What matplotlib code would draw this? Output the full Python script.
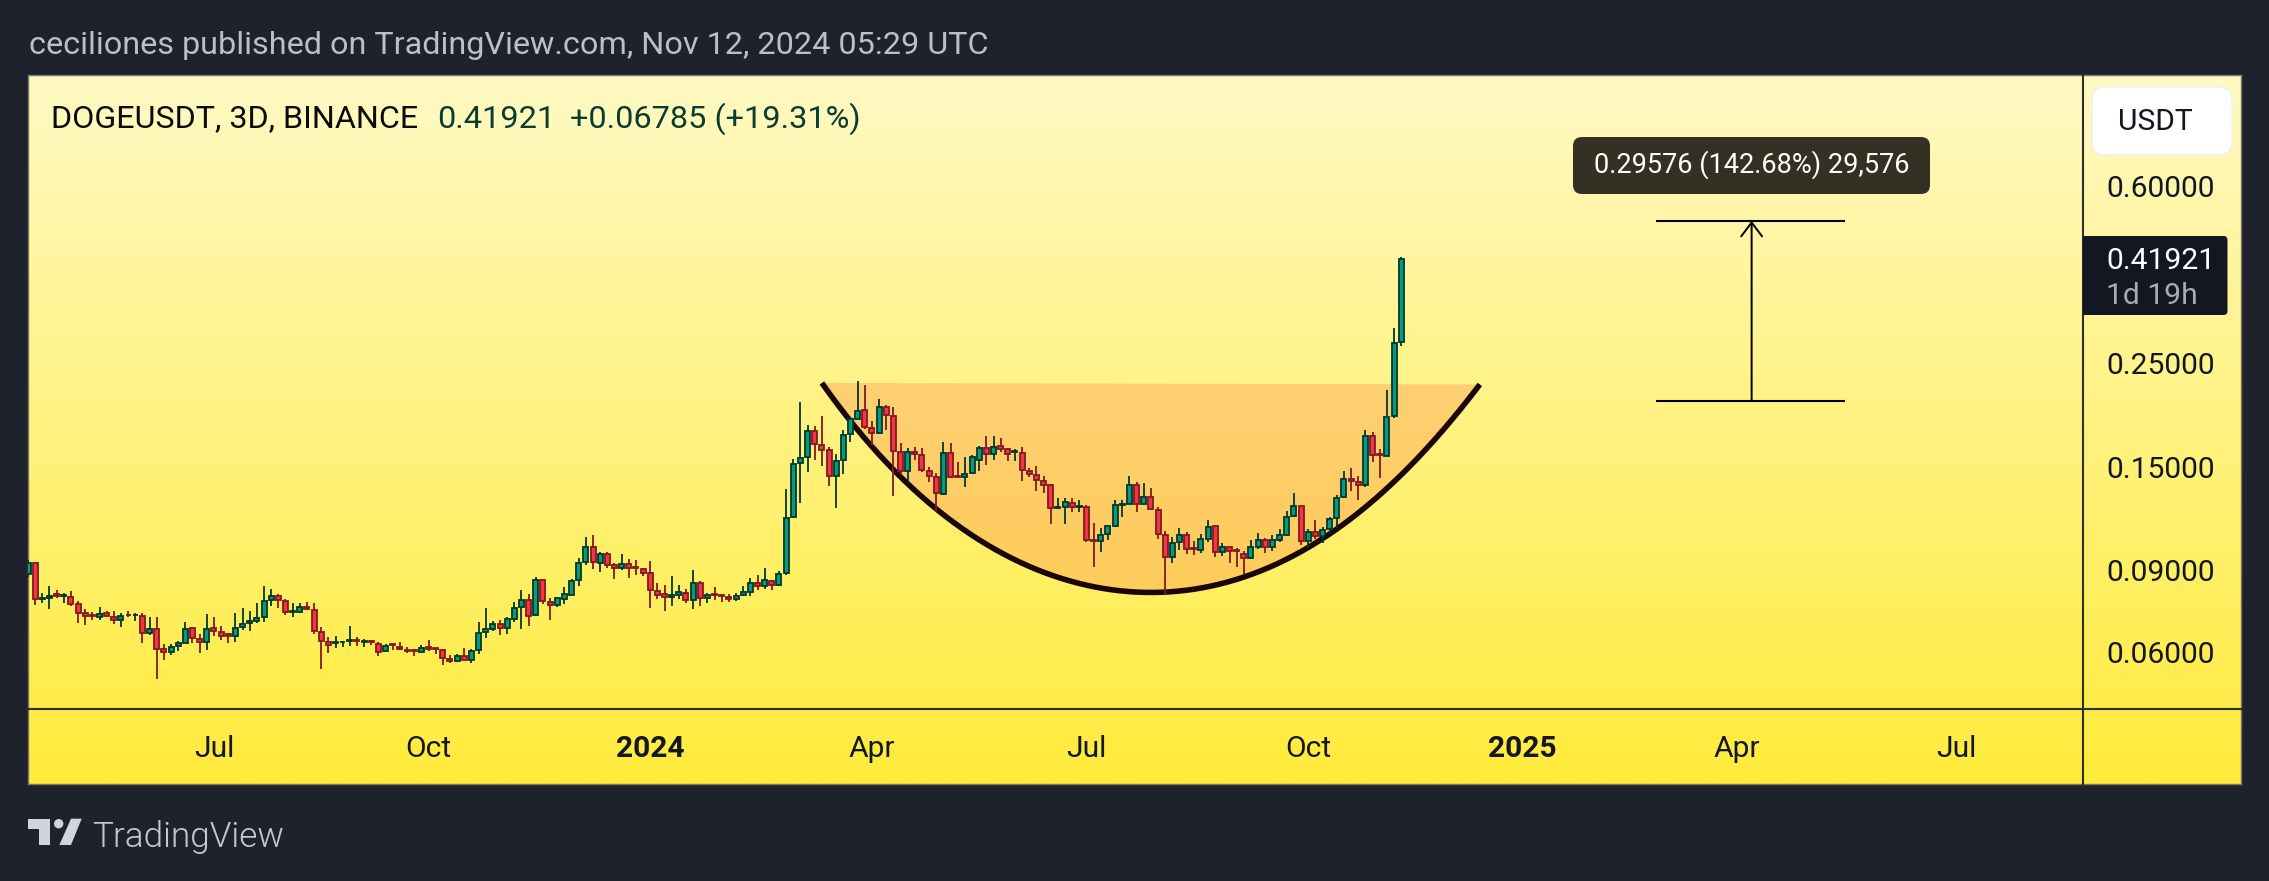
import numpy as np
import pandas as pd
import matplotlib
matplotlib.use("Agg")
import matplotlib.pyplot as plt
import matplotlib.dates as mdates
from matplotlib.patches import FancyBboxPatch, Polygon, Circle, Rectangle
from matplotlib.ticker import NullLocator

plt.rcParams['font.family'] = ['Roboto', 'DejaVu Sans']

# ---------- data ----------
last_bar = "2024-11-11"
opens = [
.0882,.0933,.0781,.0782,.0798,.0790,.0789,.0759,.0727,.0719,
.0712,.0727,.0715,.0702,.0722,.0720,.0718,.0658,.0673,.0608,
.0599,.0617,.0627,.0675,.0641,.0630,.0675,.0664,.0655,.0648,
.0679,.0692,.0698,.0712,.0775,.0793,.0773,.0730,.0731,.0751,
.0740,.0664,.0632,.0626,.0630,.0633,.0636,.0631,.0634,.0625,
.0602,.0623,.0614,.0607,.0605,.0599,.0614,.0611,.0607,.0581,
.0573,.0589,.0578,.0605,.0662,.0671,.0688,.0675,.0705,.0748,
.0777,.0719,.0858,.0769,.0756,.0779,.0796,.0855,.0935,.1010,
.0933,.0976,.0921,.0908,.0929,.0912,.0903,.0888,.0812,.0798,
.0787,.0795,.0805,.0775,.0845,.0782,.0798,.0795,.0787,.0779,
.0795,.0806,.0845,.0830,.0854,.0837,.0885,.1168,.1525,.1571,
.1786,.1672,.1626,.1430,.1548,.1760,.1895,.1988,.1819,.1768,
.2018,.1930,.1615,.1465,.1615,.1592,.1470,.1427,.1312,.1600,
.1430,.1422,.1451,.1548,.1648,.1594,.1659,.1634,.1615,.1607,
.1470,.1441,.1400,.1368,.1224,.1231,.1255,.1229,.1227,.1046,
.1040,.1075,.1117,.1243,.1247,.1372,.1247,.1293,.1212,.1072,
.0958,.1033,.1072,.1005,.0992,.1050,.1117,.0982,.1010,.0992,
.0974,.0954,.1007,.1046,.1008,.1044,.1072,.1173,.1237,.1037,
.1088,.1065,.1100,.1162,.1289,.1413,.1392,.1368,.1747,.1597,
.1581,.1926,.2776]
closes = [
.0933,.0779,.0785,.0793,.0793,.0794,.0760,.0727,.0717,.0716,
.0725,.0716,.0702,.0718,.0719,.0722,.0658,.0673,.0609,.0599,
.0616,.0626,.0673,.0643,.0630,.0673,.0665,.0651,.0651,.0677,
.0690,.0701,.0711,.0773,.0793,.0775,.0730,.0734,.0751,.0741,
.0666,.0635,.0620,.0630,.0632,.0636,.0633,.0633,.0631,.0601,
.0619,.0620,.0608,.0602,.0603,.0613,.0608,.0609,.0582,.0573,
.0587,.0578,.0604,.0660,.0671,.0690,.0675,.0705,.0746,.0777,
.0718,.0858,.0771,.0756,.0782,.0798,.0854,.0933,.1010,.0935,
.0976,.0921,.0907,.0929,.0909,.0908,.0888,.0814,.0797,.0787,
.0795,.0806,.0775,.0845,.0784,.0795,.0795,.0791,.0779,.0793,
.0806,.0845,.0830,.0855,.0837,.0884,.1166,.1520,.1568,.1786,
.1675,.1626,.1430,.1545,.1757,.1895,.1978,.1822,.1768,.2018,
.1936,.1618,.1467,.1612,.1594,.1473,.1430,.1315,.1600,.1427,
.1422,.1448,.1570,.1648,.1594,.1656,.1634,.1594,.1623,.1473,
.1444,.1404,.1370,.1224,.1231,.1257,.1229,.1237,.1042,.1040,
.1072,.1117,.1239,.1249,.1370,.1249,.1293,.1214,.1075,.0958,
.1029,.1070,.0998,.0998,.1048,.1115,.0983,.1010,.0990,.0987,
.0954,.1006,.1046,.1008,.1046,.1072,.1171,.1237,.1037,.1088,
.1063,.1097,.1160,.1285,.1411,.1395,.1368,.1747,.1592,.1589,
.1920,.2767,.41921]
highs = [
.0946,.0933,.0802,.0832,.0815,.0802,.0811,.0772,.0742,.0731,
.0750,.0735,.0735,.0728,.0735,.0728,.0728,.0713,.0713,.0624,
.0624,.0633,.0696,.0679,.0655,.0724,.0713,.0682,.0658,.0728,
.0745,.0735,.0764,.0832,.0819,.0798,.0780,.0764,.0764,.0768,
.0764,.0679,.0647,.0650,.0633,.0682,.0647,.0640,.0637,.0631,
.0624,.0623,.0631,.0615,.0609,.0621,.0637,.0612,.0609,.0591,
.0594,.0612,.0609,.0696,.0745,.0700,.0703,.0713,.0768,.0815,
.0799,.0870,.0858,.0784,.0788,.0827,.0860,.0953,.1059,.1070,
.0983,.0983,.0932,.0974,.0951,.0946,.0908,.0941,.0844,.0836,
.0873,.0836,.0820,.0900,.0852,.0803,.0827,.0799,.0799,.0803,
.0832,.0865,.0878,.0909,.0857,.0896,.1343,.1558,.2061,.1843,
.1834,.1926,.1650,.1597,.1798,.1920,.2290,.2245,.1880,.2092,
.2035,.2015,.1683,.1642,.1650,.1642,.1495,.1451,.1692,.1683,
.1535,.1570,.1586,.1661,.1745,.1745,.1725,.1648,.1634,.1650,
.1487,.1505,.1432,.1377,.1285,.1285,.1285,.1272,.1241,.1136,
.1106,.1120,.1272,.1272,.1432,.1387,.1381,.1347,.1226,.1090,
.1061,.1106,.1084,.1039,.1074,.1150,.1122,.1027,.1013,.1002,
.0987,.1044,.1079,.1054,.1068,.1100,.1203,.1315,.1241,.1100,
.1150,.1113,.1168,.1301,.1468,.1487,.1430,.1795,.1777,.1634,
.2191,.2976,.4219]
lows = [
.0871,.0757,.0763,.0743,.0785,.0766,.0755,.0694,.0687,.0703,
.0704,.0715,.0689,.0680,.0713,.0700,.0628,.0654,.0525,.0577,
.0591,.0604,.0626,.0627,.0597,.0606,.0651,.0637,.0627,.0630,
.0669,.0667,.0694,.0697,.0754,.0746,.0721,.0715,.0729,.0740,
.0656,.0552,.0597,.0612,.0615,.0618,.0618,.0616,.0620,.0589,
.0600,.0606,.0607,.0598,.0589,.0598,.0603,.0594,.0563,.0568,
.0572,.0578,.0569,.0594,.0642,.0667,.0652,.0656,.0696,.0672,
.0682,.0718,.0761,.0703,.0750,.0761,.0795,.0832,.0923,.0905,
.0891,.0909,.0861,.0900,.0865,.0878,.0873,.0745,.0778,.0735,
.0754,.0778,.0765,.0742,.0754,.0765,.0776,.0768,.0768,.0773,
.0792,.0792,.0815,.0820,.0815,.0832,.0878,.1168,.1255,.1463,
.1550,.1505,.1364,.1224,.1446,.1694,.1895,.1807,.1670,.1765,
.1798,.1295,.1440,.1385,.1550,.1463,.1392,.1200,.1306,.1422,
.1422,.1359,.1448,.1470,.1512,.1550,.1615,.1545,.1545,.1400,
.1427,.1332,.1319,.1132,.1216,.1132,.1200,.1199,.1035,.0911,
.0985,.1044,.1112,.1171,.1245,.1200,.1245,.1209,.1050,.0798,
.0933,.0994,.0976,.0971,.0981,.1035,.0961,.0966,.0932,.0915,
.0882,.0952,.1000,.0981,.0990,.1035,.1066,.1168,.1019,.1005,
.1050,.1030,.1082,.1106,.1287,.1332,.1274,.1359,.1537,.1420,
.1578,.1911,.2727]

cup_dates = ["2024-03-13","2024-03-26","2024-04-12","2024-04-30","2024-05-18","2024-06-04",
             "2024-06-22","2024-07-10","2024-07-27","2024-08-19","2024-09-06","2024-09-24",
             "2024-10-13","2024-11-02","2024-11-19","2024-11-30","2024-12-14"]
cup_prices = [.2270,.1842,.1487,.1210,.1043,.0938,.0865,.0818,.0802,.0822,.0871,.0953,
              .1087,.1293,.1575,.1858,.2240]

target_low = 0.2077
target_high = 0.5050
target_start, target_mid, target_end = "2025-02-26", "2025-04-07", "2025-05-16"

price_ticks = [0.60, 0.25, 0.15, 0.09, 0.06]
price_labels = ["0.60000", "0.25000", "0.15000", "0.09000", "0.06000"]
time_ticks = ["2023-07-02","2023-09-30","2024-01-01","2024-04-03","2024-07-02",
              "2024-10-03","2025-01-01","2025-04-01","2025-07-02"]
time_labels = ["Jul","Oct","2024","Apr","Jul","Oct","2025","Apr","Jul"]

title_text = "ceciliones published on TradingView.com, Nov 12, 2024 05:29 UTC"
symbol_text = "DOGEUSDT, 3D, BINANCE"
last_text = "0.41921"
change_text = "+0.06785 (+19.31%)"
tooltip_text = "0.29576 (142.68%) 29,576"
countdown_text = "1d 19h"

# ---------- layout ----------
W, H = 2269, 881
BG = "#1E222D"
fig = plt.figure(figsize=(W / 100, H / 100), dpi=100, facecolor=BG)

def frac(x0, y0, x1, y1):
    return [x0 / W, 1 - y1 / H, (x1 - x0) / W, (y1 - y0) / H]

# gradient panel
bg = fig.add_axes(frac(28, 75, 2241, 784), zorder=0)
top, bot = np.array([255, 249, 196]) / 255, np.array([255, 235, 59]) / 255
grad = np.linspace(0, 1, 256)[:, None, None] * (bot - top) + top
bg.imshow(grad, aspect="auto", interpolation="bilinear")
bg.set_xticks([]); bg.set_yticks([])
for s in bg.spines.values():
    s.set_color("#77775F"); s.set_linewidth(1.0)

# main chart
ax = fig.add_axes(frac(28, 75, 2083, 709), zorder=1)
ax.patch.set_alpha(0)
dates = pd.date_range(end=last_bar, periods=len(closes), freq="3D")
x = mdates.date2num(dates)
o, h, l, c = map(np.array, (opens, highs, lows, closes))
up = c >= o
GREEN, GREEN_D = "#089981", "#00382F"
RED, RED_D = "#F23645", "#801922"

# the rounded arc drawn on the chart: a smooth curve through the read points
cx = mdates.date2num(pd.to_datetime(cup_dates))
cy = np.log(np.array(cup_prices))
arc = np.polyfit(cx - cx[0], cy, 6)
sx = np.linspace(cx[0], cx[-1], 160)
sy = np.exp(np.polyval(arc, sx - cx[0]))
ax.fill(sx, sy, color="#FA9650", alpha=0.38, lw=0, zorder=1)
ax.plot(sx, sy, color="#1A0508", lw=4.0, solid_capstyle="butt", solid_joinstyle="round", zorder=2)

ax.vlines(x[up], l[up], h[up], color=GREEN_D, lw=1.3, zorder=3)
ax.vlines(x[~up], l[~up], h[~up], color=RED_D, lw=1.3, zorder=3)
lo_body, hi_body = np.minimum(o, c), np.maximum(o, c)
ax.bar(x[up], (hi_body - lo_body)[up], bottom=lo_body[up], width=2.1,
       color=GREEN, edgecolor=GREEN_D, linewidth=1.3, zorder=4)
ax.bar(x[~up], (hi_body - lo_body)[~up], bottom=lo_body[~up], width=2.1,
       color=RED, edgecolor=RED_D, linewidth=1.3, zorder=4)

# measured move
t0, t1, t2 = mdates.date2num(pd.to_datetime([target_start, target_mid, target_end]))
ax.hlines([target_low, target_high], t0, t2, color="black", lw=1.5, zorder=3)
ax.annotate("", xy=(t1, target_high), xytext=(t1, target_low),
            arrowprops=dict(arrowstyle="->,head_length=1.0,head_width=0.75", mutation_scale=10,
                            shrinkA=0, shrinkB=0, lw=1.4, color="black"), zorder=3)

ax.set_yscale("log")
ax.set_xlim(mdates.date2num(pd.Timestamp("2024-01-01")) - 261, mdates.date2num(pd.Timestamp("2024-01-01")) + 601)
ax.set_ylim(0.04528, 1.038)
ax.yaxis.set_minor_locator(NullLocator())
ax.yaxis.tick_right()
ax.set_yticks(price_ticks, price_labels)
ax.set_xticks(mdates.date2num(pd.to_datetime(time_ticks)), time_labels)
ax.tick_params(axis="both", length=0, labelsize=21.6, labelcolor="#131722")
ax.tick_params(axis="y", pad=16.5)
ax.tick_params(axis="x", pad=18.5)
for lab in ax.get_xticklabels():
    if lab.get_text().isdigit():
        lab.set_fontweight("bold")
for s in ("top", "left"):
    ax.spines[s].set_visible(False)
for s in ("right", "bottom"):
    ax.spines[s].set_color("#2E2E2E"); ax.spines[s].set_linewidth(1.5)

# overlay in pixel coordinates
ov = fig.add_axes([0, 0, 1, 1], zorder=2)
ov.set_xlim(0, W); ov.set_ylim(H, 0); ov.axis("off")

ov.plot([2083, 2083], [709, 784], color="#2E2E2E", lw=1.5)
ov.plot([2083, 2241], [709, 709], color="#2E2E2E", lw=1.5)

ov.text(29, 45, title_text, color="#BCBFCA", fontsize=23.3, va="center", ha="left")
ov.text(51, 119, symbol_text, color="#0B0B0B", fontsize=23.2, va="center", ha="left")
ov.text(437, 119, last_text, color="#0A3D30", fontsize=23.4, va="center", ha="left")
ov.text(570, 119, change_text, color="#0A3D30", fontsize=23.4, va="center", ha="left")

# USDT button
ov.add_patch(FancyBboxPatch((2101, 96), 122, 50, boxstyle="round,pad=9,rounding_size=13",
                            fc="white", ec="#EEEEEE", lw=1))
ov.text(2118, 122, "USDT", color="#131722", fontsize=21.6, va="center", ha="left")

# last price box
ov.add_patch(FancyBboxPatch((2085, 238), 140.5, 75, boxstyle="round,pad=2,rounding_size=4",
                            fc="#131722", ec="none"))
ov.add_patch(Rectangle((2083, 236), 8, 79, fc="#131722", ec="none"))
ov.text(2106, 261, last_text, color="white", fontsize=21.6, va="center", ha="left")
ov.text(2106, 296, countdown_text, color="#A8ABB5", fontsize=21.6, va="center", ha="left")

# tooltip
ov.add_patch(FancyBboxPatch((1580, 144), 343, 43, boxstyle="round,pad=7,rounding_size=9",
                            fc="#343024", ec="none"))
ov.text(1751.5, 165, tooltip_text, color="white", fontsize=19.5, va="center", ha="center")

# logo
LOGO = "#D1D4DC"
ov.add_patch(Polygon([(28, 818.7), (50, 818.7), (50, 845), (39, 845), (39, 829), (28, 829)], fc=LOGO, ec="none"))
ov.add_patch(Circle((58.7, 823.7), 4.7, fc=LOGO, ec="none"))
ov.add_patch(Polygon([(71, 818.7), (81.7, 818.7), (71, 845), (59.3, 845)], fc=LOGO, ec="none"))
ov.text(92, 837.5, "TradingView", color="#C5C8D2", fontsize=25.3, va="center", ha="left", fontweight=300)

fig.savefig("out.png", dpi=100, facecolor=BG)
